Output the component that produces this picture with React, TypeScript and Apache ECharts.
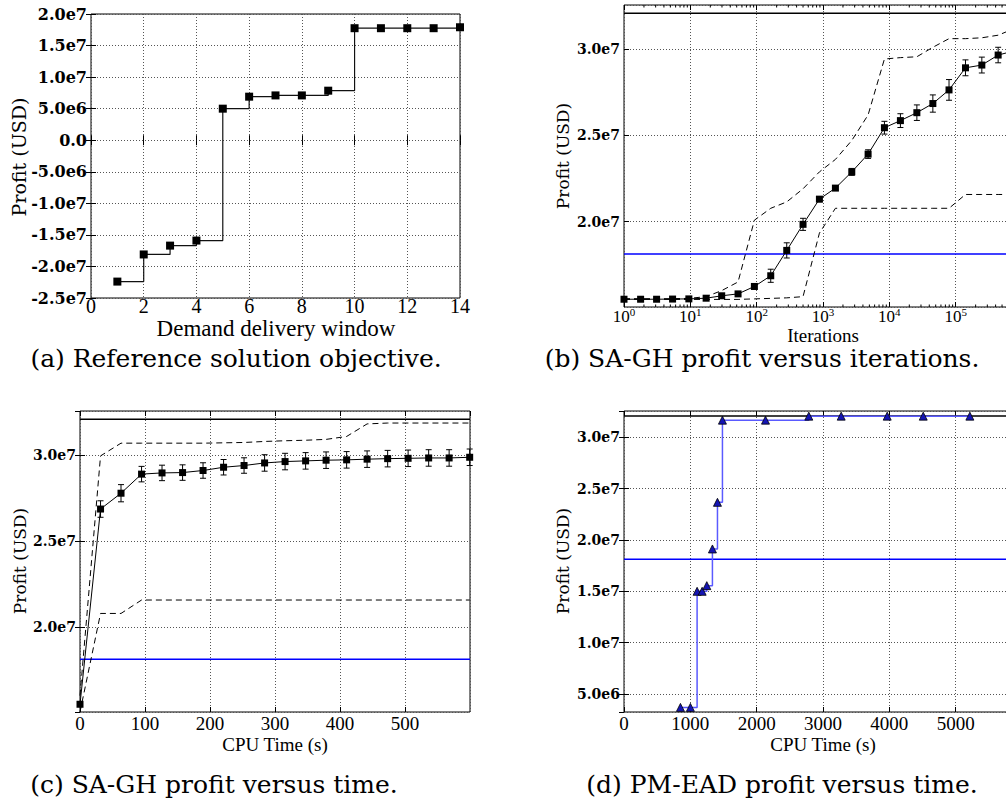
import React, { useEffect, useRef } from "react";
import * as echarts from "echarts";

// ---------- (a) Reference solution objective ----------
const aWindow = [1, 2, 3, 4, 5, 6, 7, 8, 9, 10, 11, 12, 13, 14];
const aProfit = [-2.24e7, -1.81e7, -1.67e7, -1.59e7, 5.0e6, 6.9e6, 7.1e6, 7.1e6, 7.85e6, 1.775e7, 1.775e7, 1.775e7, 1.775e7, 1.79e7];

// ---------- reference levels ----------
const optimumProfit = 3.207e7;
const baselineProfit = 1.812e7;

// ---------- (b) SA-GH profit versus iterations ----------
const bIter = [1, 1.78, 3.1, 5.4, 9.5, 17.3, 29.7, 52.4, 92.4, 163, 284, 500, 883, 1539, 2716, 4786, 8434, 14690, 26000, 45300, 79400, 140600, 248000, 437000, 780000];
const bMean = [1.55e7, 1.55e7, 1.55e7, 1.551e7, 1.552e7, 1.556e7, 1.57e7, 1.581e7, 1.624e7, 1.686e7, 1.833e7, 1.984e7, 2.13e7, 2.194e7, 2.288e7, 2.391e7, 2.544e7, 2.585e7, 2.631e7, 2.684e7, 2.763e7, 2.891e7, 2.907e7, 2.965e7, 2.99e7];
const bErr = [5e4, 5e4, 5e4, 5e4, 5e4, 6e4, 8e4, 1e5, 1.5e5, 3.8e5, 4.4e5, 3.5e5, 1.5e5, 1.2e5, 2e5, 2.5e5, 3.7e5, 4e5, 4.5e5, 5e5, 6e5, 4.6e5, 4.6e5, 4.5e5, 4.5e5];
const bMax = [1.553e7, 1.553e7, 1.553e7, 1.553e7, 1.555e7, 1.565e7, 1.6e7, 1.65e7, 2.008e7, 2.077e7, 2.114e7, 2.19e7, 2.288e7, 2.36e7, 2.47e7, 2.618e7, 2.942e7, 2.95e7, 2.955e7, 3.01e7, 3.06e7, 3.06e7, 3.065e7, 3.08e7, 3.12e7];
const bMin = [1.549e7, 1.549e7, 1.549e7, 1.549e7, 1.549e7, 1.549e7, 1.549e7, 1.549e7, 1.552e7, 1.555e7, 1.558e7, 1.565e7, 1.933e7, 2.077e7, 2.077e7, 2.077e7, 2.077e7, 2.077e7, 2.077e7, 2.077e7, 2.077e7, 2.157e7, 2.157e7, 2.157e7, 2.157e7];
const bDecadeLabels = ["0", "1", "2", "3", "4", "5", "6"];

// ---------- (c) SA-GH profit versus time ----------
const cTime = [0, 31.6, 63.1, 94.7, 126.2, 157.8, 189.3, 220.9, 252.4, 284.0, 315.5, 347.1, 378.6, 410.2, 441.7, 473.3, 504.8, 536.4, 567.9, 599.5];
const cMean = [1.55e7, 2.685e7, 2.777e7, 2.888e7, 2.895e7, 2.897e7, 2.909e7, 2.928e7, 2.938e7, 2.953e7, 2.961e7, 2.965e7, 2.969e7, 2.971e7, 2.975e7, 2.978e7, 2.98e7, 2.982e7, 2.982e7, 2.986e7];
const cErr = [1e5, 4.8e5, 5e5, 4.5e5, 4.5e5, 4.5e5, 4.5e5, 4.5e5, 4.5e5, 4.8e5, 4.8e5, 4.8e5, 4.8e5, 4.8e5, 4.8e5, 4.8e5, 4.8e5, 4.8e5, 4.8e5, 4.8e5];
const cMax = [1.6e7, 2.994e7, 3.068e7, 3.068e7, 3.068e7, 3.068e7, 3.068e7, 3.07e7, 3.072e7, 3.078e7, 3.082e7, 3.085e7, 3.09e7, 3.107e7, 3.18e7, 3.185e7, 3.185e7, 3.185e7, 3.185e7, 3.185e7];
const cMin = [1.505e7, 2.078e7, 2.078e7, 2.156e7, 2.156e7, 2.156e7, 2.156e7, 2.156e7, 2.156e7, 2.156e7, 2.156e7, 2.156e7, 2.156e7, 2.156e7, 2.156e7, 2.156e7, 2.156e7, 2.156e7, 2.156e7, 2.156e7];

// ---------- (d) PM-EAD profit versus time ----------
const dTime = [851, 1001, 1102, 1178, 1248, 1333, 1409, 1484, 2133, 2786, 3274, 3968, 4511, 5214];
const dProfit = [3.7e6, 3.7e6, 1.5e7, 1.5e7, 1.555e7, 1.912e7, 2.366e7, 3.166e7, 3.166e7, 3.205e7, 3.205e7, 3.205e7, 3.205e7, 3.205e7];

// ---------- texts ----------
const yLabel = "Profit (USD)";
const captions = [
  "(a) Reference solution objective.",
  "(b) SA-GH profit versus iterations.",
  "(c) SA-GH profit versus time.",
  "(d) PM-EAD profit versus time.",
];
const xLabels = ["Demand delivery window", "Iterations", "CPU Time (s)", "CPU Time (s)"];

const SERIF = "'DejaVu Serif', serif";
const TIMES = "'Liberation Serif', 'Times New Roman', serif";

function sci(v: number): string {
  if (Math.abs(v) < 1e-6) return "0.0";
  const e = Math.floor(Math.log10(Math.abs(v)) + 1e-9);
  const m = v / Math.pow(10, e);
  return m.toFixed(1) + "e" + e;
}

const pairs = (xs: number[], ys: number[]) => xs.map((x, i) => [x, ys[i]]);

function errorBars(xi: number, xs: number[], mean: number[], err: number[]) {
  return {
    type: "custom",
    xAxisIndex: xi,
    yAxisIndex: xi,
    data: xs.map((x, i) => [x, mean[i] - err[i], mean[i] + err[i]]),
    encode: { x: 0, y: [1, 2] },
    z: 4,
    renderItem: (params: any, api: any) => {
      const x = api.value(0);
      const lo = api.coord([x, api.value(1)]);
      const hi = api.coord([x, api.value(2)]);
      const w = 3;
      const st = { stroke: "#000", lineWidth: 1, fill: "none" };
      return {
        type: "group",
        children: [
          { type: "line", shape: { x1: lo[0], y1: lo[1], x2: hi[0], y2: hi[1] }, style: st },
          { type: "line", shape: { x1: lo[0] - w, y1: lo[1], x2: lo[0] + w, y2: lo[1] }, style: st },
          { type: "line", shape: { x1: hi[0] - w, y1: hi[1], x2: hi[0] + w, y2: hi[1] }, style: st },
        ],
      };
    },
  };
}

function meanLine(xi: number, xs: number[], ys: number[]) {
  return {
    type: "line",
    xAxisIndex: xi,
    yAxisIndex: xi,
    data: pairs(xs, ys),
    symbol: "rect",
    symbolSize: 7,
    itemStyle: { color: "#000" },
    lineStyle: { color: "#000", width: 1 },
    z: 5,
  };
}

function dashed(xi: number, xs: number[], ys: number[]) {
  return {
    type: "line",
    xAxisIndex: xi,
    yAxisIndex: xi,
    data: pairs(xs, ys),
    symbol: "none",
    lineStyle: { color: "#000", width: 1, type: [6, 4] },
    z: 3,
  };
}

function hline(xi: number, x0: number, x1: number, v: number, color: string) {
  return {
    type: "line",
    xAxisIndex: xi,
    yAxisIndex: xi,
    data: [[x0, v], [x1, v]],
    symbol: "none",
    lineStyle: { color, width: 1.6 },
    z: 2,
  };
}

// minor tick positions of the log axis (2..9 x 10^k)
const minorLogTicks: number[] = [];
for (let k = 0; k < 6; k++) for (let m = 2; m <= 9; m++) minorLogTicks.push(m * Math.pow(10, k));

function buildOption(): any {
  const split = { show: true, lineStyle: { color: "#555", type: [1, 2], width: 1 } };
  const tick = { show: true, inside: true, length: 5, lineStyle: { color: "#000", width: 1 } };
  const noLine = { show: false };
  const xTick = (size: number, margin: number) => ({
    fontFamily: TIMES,
    fontSize: size,
    color: "#000",
    margin,
    formatter: (v: number) => String(v),
  });
  const yTick = (size: number) => ({
    fontFamily: SERIF,
    fontWeight: "bold",
    fontSize: size,
    color: "#000",
    margin: 4,
    formatter: sci,
  });

  const grids = [
    { left: 91, top: 14, width: 369, height: 284 },
    { left: 624, top: 5, width: 398, height: 302 },
    { left: 80, top: 411, width: 390, height: 301 },
    { left: 624, top: 411, width: 398, height: 301 },
  ].map((g) => ({
    ...g,
    show: true,
    borderColor: "#000",
    borderWidth: 1,
    backgroundColor: "transparent",
    containLabel: false,
    outerBoundsMode: "none",
  }));

  const xMain: any[] = [
    { gridIndex: 0, type: "value", min: 0, max: 14, interval: 2, axisLabel: xTick(20, -2) },
    {
      gridIndex: 1,
      type: "log",
      logBase: 10,
      min: 1,
      max: 1e6,
      splitNumber: 6,
      axisLabel: {
        ...xTick(17, -1),
        showMaxLabel: false,
        formatter: (v: number) => "{b|10}{s|" + bDecadeLabels[Math.round(Math.log10(v))] + "}",
        rich: {
          b: { fontFamily: TIMES, fontSize: 17, color: "#000", verticalAlign: "bottom", lineHeight: 19 },
          s: { fontFamily: TIMES, fontSize: 11, color: "#000", verticalAlign: "top", lineHeight: 10 },
        },
      },
    },
    { gridIndex: 2, type: "value", min: 0, max: 600, interval: 100, axisLabel: { ...xTick(19, 2), showMaxLabel: false } },
    { gridIndex: 3, type: "value", min: 0, max: 6000, interval: 1000, axisLabel: { ...xTick(19, 2), showMaxLabel: false } },
  ].map((a) => ({ ...a, axisLine: noLine, axisTick: tick, splitLine: split }));

  const xTop: any[] = xMain.map((a) => ({
    ...a,
    position: "top",
    axisLabel: { show: false },
    splitLine: { show: false },
  }));

  const yMain: any[] = [
    { gridIndex: 0, min: -2.5e7, max: 2.0e7, interval: 5e6, axisLabel: yTick(16) },
    { gridIndex: 1, min: 1.505e7, max: 3.255e7, splitNumber: 4, axisLabel: { ...yTick(14), showMinLabel: false, showMaxLabel: false } },
    { gridIndex: 2, min: 1.505e7, max: 3.255e7, splitNumber: 4, axisLabel: { ...yTick(14), showMinLabel: false, showMaxLabel: false } },
    { gridIndex: 3, min: 3.25e6, max: 3.255e7, splitNumber: 6, axisLabel: { ...yTick(14), showMinLabel: false, showMaxLabel: false } },
  ].map((a) => ({ ...a, type: "value", axisLine: noLine, axisTick: tick, splitLine: split }));

  const yRight: any[] = yMain.map((a) => ({
    ...a,
    position: "right",
    axisLabel: { show: false },
    splitLine: { show: false },
  }));

  const series: any[] = [
    // (a)
    {
      type: "line",
      xAxisIndex: 0,
      yAxisIndex: 0,
      step: "end",
      data: pairs(aWindow, aProfit),
      symbol: "rect",
      symbolSize: 8,
      itemStyle: { color: "#000" },
      lineStyle: { color: "#111", width: 1.2 },
      z: 5,
    },
    // (b)
    hline(1, 1, 1e6, optimumProfit, "#000"),
    hline(1, 1, 1e6, baselineProfit, "#0000ff"),
    dashed(1, bIter, bMax),
    dashed(1, bIter, bMin),
    meanLine(1, bIter, bMean),
    errorBars(1, bIter, bMean, bErr),
    {
      type: "custom",
      xAxisIndex: 1,
      yAxisIndex: 1,
      data: minorLogTicks.map((v) => [v, 2e7]),
      encode: { x: 0, y: 1 },
      z: 6,
      silent: true,
      renderItem: (params: any, api: any) => {
        const p = api.coord([api.value(0), api.value(1)]);
        const cs = params.coordSys;
        const st = { stroke: "#000", lineWidth: 1 };
        const yb = cs.y + cs.height;
        return {
          type: "group",
          children: [
            { type: "line", shape: { x1: p[0], y1: yb, x2: p[0], y2: yb - 2.5 }, style: st },
            { type: "line", shape: { x1: p[0], y1: cs.y, x2: p[0], y2: cs.y + 2.5 }, style: st },
          ],
        };
      },
    },
    // (c)
    hline(2, 0, 600, optimumProfit, "#000"),
    hline(2, 0, 600, baselineProfit, "#0000ff"),
    dashed(2, cTime, cMax),
    dashed(2, cTime, cMin),
    meanLine(2, cTime, cMean),
    errorBars(2, cTime, cMean, cErr),
    // (d)
    hline(3, 0, 6000, optimumProfit, "#000"),
    hline(3, 0, 6000, baselineProfit, "#0000ff"),
    {
      type: "line",
      xAxisIndex: 3,
      yAxisIndex: 3,
      step: "end",
      data: pairs(dTime, dProfit),
      symbol: "triangle",
      symbolSize: 8,
      itemStyle: { color: "#1414b4", borderColor: "#000", borderWidth: 0.8 },
      lineStyle: { color: "#5a5aff", width: 1.5 },
      z: 5,
    },
  ];

  const txt = (x: number, y: number, text: string, font: string, rotate = false) => ({
    type: "text",
    x,
    y,
    rotation: rotate ? Math.PI / 2 : 0,
    silent: true,
    style: {
      text,
      font,
      fill: "#000",
      textAlign: "center",
      textVerticalAlign: "middle",
      align: "center",
      verticalAlign: "middle",
    },
  });

  const graphic: any[] = [
    txt(19, 157, yLabel, `19px ${SERIF}`, true),
    txt(563, 156, yLabel, `17px ${SERIF}`, true),
    txt(20, 561, yLabel, `17px ${SERIF}`, true),
    txt(563, 561, yLabel, `17px ${SERIF}`, true),
    txt(276, 328, xLabels[0], `23px ${TIMES}`),
    txt(823, 335, xLabels[1], `19px ${TIMES}`),
    txt(275, 744, xLabels[2], `19px ${TIMES}`),
    txt(823, 744, xLabels[3], `19px ${TIMES}`),
    txt(236, 358, captions[0], `25px ${SERIF}`),
    txt(762, 358, captions[1], `25px ${SERIF}`),
    txt(214, 784, captions[2], `25px ${SERIF}`),
    txt(782, 784, captions[3], `25px ${SERIF}`),
  ];

  return {
    animation: false,
    backgroundColor: "#fff",
    grid: grids,
    xAxis: [...xMain, ...xTop],
    yAxis: [...yMain, ...yRight],
    series,
    graphic,
  };
}

export default function App() {
  const ref = useRef<HTMLDivElement>(null);
  useEffect(() => {
    if (!ref.current) return;
    const chart = echarts.init(ref.current, null, { renderer: "svg" });
    chart.setOption(buildOption());
    return () => chart.dispose();
  }, []);
  return (
    <div
      ref={ref}
      style={{ position: "fixed", left: 0, top: 0, width: 1006, height: 805, background: "#fff", overflow: "hidden" }}
    />
  );
}
